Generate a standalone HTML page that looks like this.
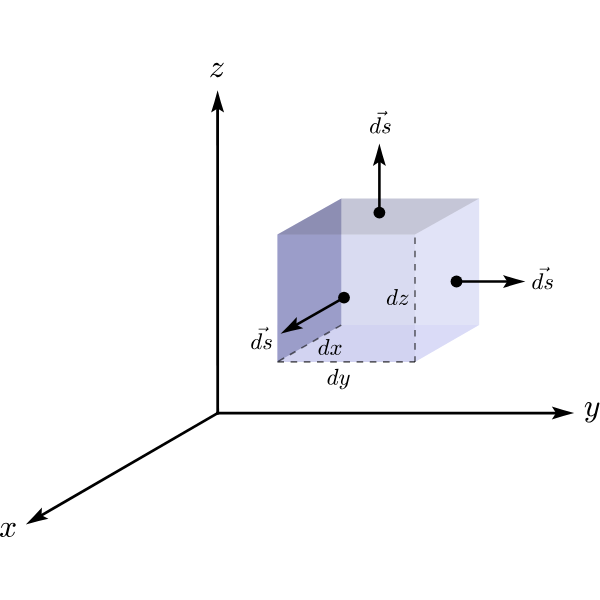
<!DOCTYPE html>
<html><head><meta charset="utf-8">
<style>
html,body{margin:0;padding:0;background:#fff;width:600px;height:600px;overflow:hidden}
svg{display:block}
</style></head><body>
<svg width="600" height="600" viewBox="0 0 600 600">
<g filter="url(#bl)"><rect width="600" height="600" fill="#fff"/>
<defs><filter id="bl" x="-5%" y="-5%" width="110%" height="110%"><feGaussianBlur stdDeviation="0.35"/></filter>
<path id="g_d" d="M356 -23Q227 -23 152.5 74.5Q78 172 78 305Q78 436 146.0 577.0Q214 718 329.5 811.5Q445 905 578 905Q638 905 686.5 871.5Q735 838 762 782L877 1239Q885 1274 887 1294Q887 1327 754 1327Q733 1327 733 1354Q734 1359 737.5 1372.0Q741 1385 746.5 1392.0Q752 1399 762 1399L1038 1421Q1063 1421 1063 1395L768 217Q754 183 754 119Q754 31 813 31Q877 31 910.5 112.5Q944 194 967 301Q971 313 983 313H1008Q1016 313 1021.0 306.0Q1026 299 1026 293Q990 150 947.5 63.5Q905 -23 809 -23Q740 -23 687.0 17.5Q634 58 621 125Q489 -23 356 -23ZM358 31Q432 31 501.5 86.5Q571 142 621 217Q623 219 623 225L735 676Q723 748 682.0 800.0Q641 852 573 852Q504 852 444.5 795.5Q385 739 344 662Q304 580 267.5 437.0Q231 294 231 215Q231 144 261.5 87.5Q292 31 358 31Z"/>
<path id="g_s" d="M178 125Q233 31 399 31Q471 31 536.0 55.5Q601 80 643.5 129.0Q686 178 686 248Q686 301 648.0 335.0Q610 369 555 381L444 403Q368 422 319.0 474.0Q270 526 270 600Q270 691 319.5 761.0Q369 831 450.0 868.0Q531 905 618 905Q711 905 784.5 860.5Q858 816 858 729Q858 682 831.5 646.0Q805 610 758 610Q731 610 711.5 627.5Q692 645 692 672Q692 696 705.5 718.5Q719 741 741.5 754.5Q764 768 788 768Q770 812 720.5 832.0Q671 852 614 852Q562 852 510.0 831.0Q458 810 426.5 769.5Q395 729 395 674Q395 637 421.0 609.0Q447 581 485 569L604 545Q661 533 708.5 502.5Q756 472 783.5 425.5Q811 379 811 319Q811 243 768.5 169.0Q726 95 664 51Q555 -23 397 -23Q288 -23 197.0 27.0Q106 77 106 176Q106 232 138.5 273.5Q171 315 227 315Q260 315 282.5 295.0Q305 275 305 242Q305 195 270.0 160.0Q235 125 188 125Z"/>
<path id="g_x" d="M160 59Q196 31 262 31Q326 31 375.0 92.5Q424 154 442 227L535 590Q557 689 557 725Q557 776 528.5 814.0Q500 852 449 852Q384 852 327.0 811.5Q270 771 231.0 708.5Q192 646 176 582Q172 569 160 569H135Q119 569 119 588V594Q139 670 187.0 742.5Q235 815 304.5 860.0Q374 905 453 905Q528 905 588.5 865.0Q649 825 674 756Q709 819 763.5 862.0Q818 905 883 905Q927 905 973.0 889.5Q1019 874 1048.0 842.0Q1077 810 1077 762Q1077 710 1043.5 672.5Q1010 635 958 635Q925 635 903.0 656.0Q881 677 881 709Q881 752 910.5 784.5Q940 817 981 823Q944 852 879 852Q813 852 764.5 791.0Q716 730 696 655L606 293Q584 211 584 158Q584 106 613.5 68.5Q643 31 692 31Q788 31 863.5 115.5Q939 200 963 301Q967 313 979 313H1004Q1012 313 1017.0 307.5Q1022 302 1022 295Q1022 293 1020 289Q991 167 898.0 72.0Q805 -23 688 -23Q613 -23 552.5 17.5Q492 58 467 127Q435 67 378.5 22.0Q322 -23 258 -23Q214 -23 167.5 -7.5Q121 8 92.0 40.0Q63 72 63 121Q63 169 96.5 208.5Q130 248 180 248Q214 248 237.0 227.5Q260 207 260 174Q260 131 231.5 99.0Q203 67 160 59Z"/>
<path id="g_y" d="M172 -293Q215 -367 322 -367Q419 -367 490.0 -299.0Q561 -231 604.5 -134.5Q648 -38 672 63Q581 -23 475 -23Q394 -23 337.0 5.0Q280 33 248.5 88.5Q217 144 217 223Q217 290 235.0 360.5Q253 431 285.5 517.5Q318 604 342 668Q369 743 369 791Q369 852 324 852Q243 852 190.5 768.5Q138 685 113 582Q109 569 96 569H72Q55 569 55 588V594Q88 716 156.0 810.5Q224 905 328 905Q401 905 451.5 857.0Q502 809 502 735Q502 697 485 655Q476 630 444.0 546.0Q412 462 395.0 407.0Q378 352 367.0 299.0Q356 246 356 193Q356 125 385.0 78.0Q414 31 477 31Q604 31 705 186L860 817Q867 844 892.0 863.5Q917 883 946 883Q971 883 989.5 867.0Q1008 851 1008 825Q1008 813 1006 809L803 -6Q776 -111 704.0 -207.0Q632 -303 530.5 -361.5Q429 -420 319 -420Q266 -420 214.0 -399.5Q162 -379 130.0 -338.0Q98 -297 98 -242Q98 -186 131.0 -145.0Q164 -104 219 -104Q252 -104 274.5 -124.5Q297 -145 297 -178Q297 -225 262.0 -260.0Q227 -295 180 -295Q178 -294 176.0 -293.5Q174 -293 172 -293Z"/>
<path id="g_z" d="M100 -23Q84 -23 84 -4Q84 6 88 10Q143 105 220.5 191.5Q298 278 396.5 366.5Q495 455 594.5 544.0Q694 633 756 702H748Q703 702 616.0 731.0Q529 760 479 760Q425 760 374.0 736.5Q323 713 309 664Q306 649 293 649H268Q252 649 252 670V676Q268 736 304.5 788.0Q341 840 394.5 872.5Q448 905 506 905Q547 905 574.0 886.5Q601 868 637.0 829.0Q673 790 695.5 773.0Q718 756 752 756Q797 756 832.5 797.0Q868 838 903 899Q909 905 918 905H942Q949 905 953.5 900.0Q958 895 958 887Q958 880 954 874Q899 779 825.5 696.5Q752 614 633.5 507.5Q515 401 433.5 327.5Q352 254 281 176Q297 180 324 180Q374 180 460.5 151.5Q547 123 594 123Q645 123 697.0 145.0Q749 167 787.0 207.0Q825 247 838 299Q843 313 854 313H879Q887 313 892.0 306.5Q897 300 897 293Q897 291 895 287Q876 209 829.0 138.5Q782 68 713.5 22.5Q645 -23 567 -23Q528 -23 501.0 -5.0Q474 13 437.5 52.5Q401 92 378.0 109.5Q355 127 322 127Q220 127 139 -16Q132 -23 125 -23Z"/>
<path id="g_vector" d="M410 1219Q394 1219 383.5 1231.0Q373 1243 373 1260Q373 1275 383.5 1287.5Q394 1300 410 1300H1135Q1081 1373 1081 1421Q1081 1439 1093.5 1450.5Q1106 1462 1122 1462Q1156 1462 1163 1430Q1183 1342 1260 1294Q1280 1281 1280 1260Q1280 1235 1260 1225Q1144 1167 1073 1071Q1065 1057 1042 1057Q1027 1057 1014.0 1069.0Q1001 1081 1001 1098Q1001 1135 1100 1219Z"/>
</defs>
<g style="isolation:isolate">
<polygon points="277.4,234.6 341.3,198.4 341.3,325.1 277.4,361.9" fill="rgb(177, 178, 210)" style="mix-blend-mode:multiply"/>
<polygon points="277.4,234.6 341.3,198.4 479.2,198.4 415,234.6" fill="rgb(203, 203, 218)" style="mix-blend-mode:multiply"/>
<polygon points="341.3,198.4 479.2,198.4 479.2,325.1 341.3,325.1" fill="rgb(248, 249, 252)" style="mix-blend-mode:multiply"/>
<polygon points="415,234.6 479.2,198.4 479.2,325.1 415,361.9" fill="rgb(232, 233, 250)" style="mix-blend-mode:multiply"/>
<polygon points="277.4,234.6 415,234.6 415,361.9 277.4,361.9" fill="rgb(224, 225, 244)" style="mix-blend-mode:multiply"/>
<polygon points="277.4,361.9 341.3,325.1 479.2,325.1 415,361.9" fill="rgb(240, 240, 252)" style="mix-blend-mode:multiply"/>
</g>
<g stroke="#000" stroke-opacity="0.58" stroke-width="1.6" fill="none" stroke-dasharray="6.6 6.6">
<line x1="415" y1="361.9" x2="415" y2="234.6" stroke-dashoffset="1"/>
<line x1="415" y1="361.9" x2="277.4" y2="361.9" stroke-dashoffset="1"/>
<line x1="341.3" y1="325.1" x2="277.4" y2="361.9"/>
</g>
<g fill="#000">
<line x1="217.7" y1="414.5" x2="217.61" y2="107.2" stroke="#000" stroke-width="2.8"/>
<path d="M0,0 Q-12,3.1 -22.4,6.5 L-18.2,0 L-22.4,-6.5 Q-12,-3.1 0,0 Z" transform="translate(217.6,90.2) rotate(-90.02)"/>
<line x1="216.3" y1="413.1" x2="557.2" y2="413.1" stroke="#000" stroke-width="2.8"/>
<path d="M0,0 Q-12,3.1 -22.4,6.5 L-18.2,0 L-22.4,-6.5 Q-12,-3.1 0,0 Z" transform="translate(574.2,413.1) rotate(0.00)"/>
<line x1="217.7" y1="413.1" x2="40.51" y2="515.87" stroke="#000" stroke-width="2.8"/>
<path d="M0,0 Q-12,3.1 -22.4,6.5 L-18.2,0 L-22.4,-6.5 Q-12,-3.1 0,0 Z" transform="translate(25.8,524.4) rotate(149.89)"/>
<line x1="379.4" y1="212.6" x2="379.4" y2="160.5" stroke="#000" stroke-width="2.6"/>
<path d="M0,0 Q-12,3.1 -22.4,6.5 L-18.2,0 L-22.4,-6.5 Q-12,-3.1 0,0 Z" transform="translate(379.4,143.5) rotate(-90.00)"/>
<circle cx="379.4" cy="212.6" r="5.9"/>
<line x1="456.5" y1="281.5" x2="508.4" y2="281.5" stroke="#000" stroke-width="2.6"/>
<path d="M0,0 Q-12,3.1 -22.4,6.5 L-18.2,0 L-22.4,-6.5 Q-12,-3.1 0,0 Z" transform="translate(525.4,281.5) rotate(0.00)"/>
<circle cx="456.5" cy="281.5" r="5.9"/>
<line x1="344" y1="297.6" x2="295.36" y2="325.37" stroke="#000" stroke-width="2.6"/>
<path d="M0,0 Q-12,3.1 -22.4,6.5 L-18.2,0 L-22.4,-6.5 Q-12,-3.1 0,0 Z" transform="translate(280.6,333.8) rotate(150.27)"/>
<circle cx="344" cy="297.6" r="5.9"/>
<use href="#g_z" transform="translate(208.94,76.83) scale(0.015479,-0.015479)"/>
<use href="#g_y" transform="translate(583.85,416.10) scale(0.015479,-0.015479)"/>
<use href="#g_x" transform="translate(-0.97,536.68) scale(0.015479,-0.015479)"/>
<use href="#g_d" transform="translate(369.16,133.13) scale(0.011133,-0.011133)"/>
<use href="#g_s" transform="translate(381.02,133.13) scale(0.011133,-0.011133)"/>
<use href="#g_vector" transform="translate(373.22,127.22) scale(0.011133,-0.011133)"/>
<use href="#g_d" transform="translate(531.46,289.03) scale(0.011133,-0.011133)"/>
<use href="#g_s" transform="translate(543.32,289.03) scale(0.011133,-0.011133)"/>
<use href="#g_vector" transform="translate(535.52,283.12) scale(0.011133,-0.011133)"/>
<use href="#g_d" transform="translate(250.36,349.03) scale(0.011133,-0.011133)"/>
<use href="#g_s" transform="translate(262.22,349.03) scale(0.011133,-0.011133)"/>
<use href="#g_vector" transform="translate(254.42,343.12) scale(0.011133,-0.011133)"/>
<use href="#g_d" transform="translate(317.69,354.73) scale(0.011133,-0.011133)"/>
<use href="#g_x" transform="translate(329.55,354.73) scale(0.011133,-0.011133)"/>
<use href="#g_d" transform="translate(326.68,384.57) scale(0.011133,-0.011133)"/>
<use href="#g_y" transform="translate(338.53,384.57) scale(0.011133,-0.011133)"/>
<use href="#g_d" transform="translate(386.05,304.83) scale(0.011133,-0.011133)"/>
<use href="#g_z" transform="translate(397.91,304.83) scale(0.011133,-0.011133)"/>
</g></g>
</svg>
</body></html>
